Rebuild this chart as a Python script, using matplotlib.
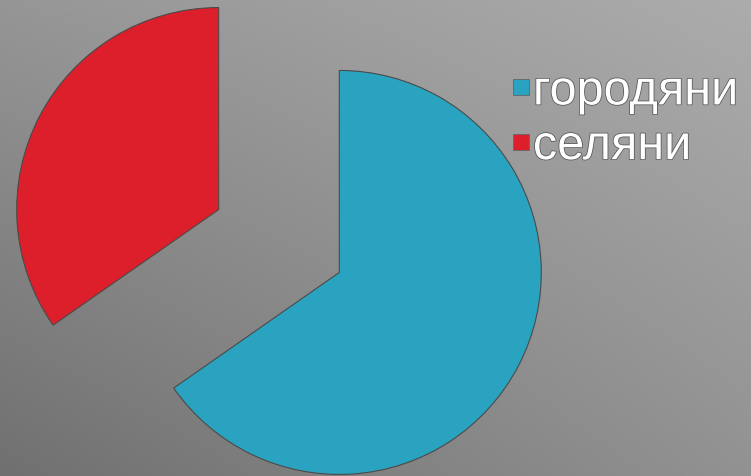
import numpy as np
import matplotlib
matplotlib.use("Agg")
import matplotlib.pyplot as plt
import matplotlib.patheffects as pe
from matplotlib.lines import Line2D

labels = ["городяни", "селяни"]
shares = [65.3, 34.7]
colors = ["#2aa3c0", "#dc1f2a"]
explode = [68, 68]

W, H = 751, 477
fig = plt.figure(figsize=(W / 100, H / 100), dpi=100)

# gray background gradient, lighter top-right, darker bottom-left
bg = fig.add_axes([0, 0, 1, 1])
corners = np.array([[150, 172], [112, 146]]) / 255.0  # [top-left, top-right], [bottom-left, bottom-right]
yy, xx = np.mgrid[0:1:H * 1j, 0:1:W * 1j]
g = (corners[0, 0] * (1 - xx) * (1 - yy) + corners[0, 1] * xx * (1 - yy)
     + corners[1, 0] * (1 - xx) * yy + corners[1, 1] * xx * yy)
bg.imshow(np.dstack([g, g, g]), aspect="auto", extent=[0, 1, 0, 1])
bg.axis("off")

ax = fig.add_axes([0, 0, 1, 1])
ax.pie(shares, colors=colors, explode=explode, startangle=90, counterclock=False,
       center=(279, H - 242), radius=202, frame=True,
       wedgeprops=dict(edgecolor="#4a4a4a", linewidth=0.8))
ax.set_xlim(0, W); ax.set_ylim(0, H)
ax.set_aspect("equal")
ax.axis("off")

handles = [Line2D([], [], ls="", marker="s", markersize=11, color=c,
                  markeredgecolor="#666666", markeredgewidth=0.6) for c in colors]
leg = ax.legend(handles, labels, loc="upper left", bbox_to_anchor=(494 / W, 1 - 51 / H),
                frameon=False, handlelength=0.3, handletextpad=0.1,
                labelspacing=0.2, borderaxespad=0, prop={"family": "Liberation Sans", "size": 35})
for t in leg.get_texts():
    t.set_color("white")
    t.set_path_effects([pe.withStroke(linewidth=1.1, foreground="#555555")])

fig.savefig("out.png", dpi=100)
